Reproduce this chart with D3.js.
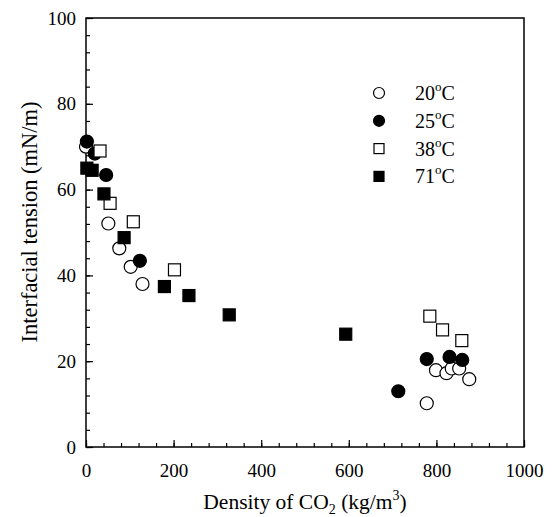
<!DOCTYPE html>
<html>
<head>
<meta charset="utf-8">
<script src="https://cdn.jsdelivr.net/npm/d3@7"></script>
<style>
    body { margin: 0; background: white; }
    text { font-family: "Liberation Serif", "Times New Roman", serif; fill: black; }
</style>
</head>
<body>
<div id="chart"></div>
<script>
// data: density of CO2 (kg/m3) vs interfacial tension (mN/m)
let series20 = [[0, 70], [51, 52.1], [76, 46.3], [102, 42], [129, 38], [778, 10.2], [799, 17.9], [823, 17.2], [835, 18.3], [852, 18.3], [875, 15.8]];
let series25 = [[2, 71.2], [20, 68.4], [46, 63.4], [123, 43.4], [713, 13], [778, 20.5], [830, 21], [859, 20.3]];
let series38 = [[32, 69], [55, 56.8], [108, 52.5], [202, 41.3], [785, 30.5], [814, 27.3], [858, 24.8]];
let series71 = [[2, 65], [14, 64.5], [41, 59], [87, 48.8], [179, 37.4], [235, 35.3], [327, 30.8], [593, 26.3]];

let legendLabels = ["20", "25", "38", "71"];
let xTicks = [0, 200, 400, 600, 800, 1000];
let yTicks = [0, 20, 40, 60, 80, 100];

let groups = [
    {name: "20", data: series20, shape: "circle", fill: "white"},
    {name: "25", data: series25, shape: "circle", fill: "black"},
    {name: "38", data: series38, shape: "square", fill: "white"},
    {name: "71", data: series71, shape: "square", fill: "black"}
];

let margin = {top: 18, right: 28, bottom: 70, left: 86};
let width = 552 - margin.left - margin.right;
let height = 517 - margin.top - margin.bottom;

let svg = d3.select("#chart").append("svg")
    .attr("width", 552)
    .attr("height", 517)
    .append("g")
    .attr("transform", `translate(${margin.left}, ${margin.top})`);

let x = d3.scaleLinear().domain([0, 1000]).range([0, width]);
let y = d3.scaleLinear().domain([0, 100]).range([height, 0]);

// inward ticks, major + minor
let xAxis = d3.axisBottom(x).tickValues(d3.range(0, 1001, 40)).tickSize(-4).tickFormat("");
let yAxis = d3.axisLeft(y).tickValues(d3.range(0, 101, 4)).tickSize(-4).tickFormat("");

svg.append("g").attr("class", "x-minor")
    .attr("transform", `translate(0, ${height})`)
    .call(xAxis);
svg.append("g").attr("class", "y-minor")
    .call(yAxis);

svg.append("g").attr("class", "x-axis")
    .attr("transform", `translate(0, ${height})`)
    .call(d3.axisBottom(x).tickValues(xTicks).tickSize(-7).tickPadding(17).tickFormat(d3.format("d")));
svg.append("g").attr("class", "y-axis")
    .call(d3.axisLeft(y).tickValues(yTicks).tickSize(-7).tickPadding(10).tickFormat(d3.format("d")));

svg.selectAll(".domain").remove();
svg.selectAll(".tick line").attr("stroke", "black").attr("stroke-width", 1.2);
svg.selectAll(".tick text").style("font-size", "19px").style("font-family", "Liberation Serif");

// frame
svg.append("rect")
    .attr("width", width)
    .attr("height", height)
    .attr("fill", "none")
    .attr("stroke", "black")
    .attr("stroke-width", 1.5);

// markers
let r = 6.5, s = 12;
groups.forEach(g => {
    if (g.shape === "circle") {
        svg.selectAll(".pt" + g.name)
            .data(g.data)
            .enter().append("circle")
            .attr("cx", d => x(d[0]))
            .attr("cy", d => y(d[1]))
            .attr("r", r)
            .attr("fill", g.fill)
            .attr("stroke", "black")
            .attr("stroke-width", 1.2);
    } else {
        svg.selectAll(".pt" + g.name)
            .data(g.data)
            .enter().append("rect")
            .attr("x", d => x(d[0]) - s / 2)
            .attr("y", d => y(d[1]) - s / 2)
            .attr("width", s)
            .attr("height", s)
            .attr("fill", g.fill)
            .attr("stroke", "black")
            .attr("stroke-width", 1.2);
    }
});

// legend
let legend = svg.append("g")
    .attr("class", "legend")
    .attr("transform", `translate(${379 - margin.left}, ${93 - margin.top})`);

groups.forEach((g, i) => {
    let row = legend.append("g").attr("transform", `translate(0, ${i * 27.8})`);
    if (g.shape === "circle") {
        row.append("circle").attr("r", 5.5)
            .attr("fill", g.fill).attr("stroke", "black").attr("stroke-width", 1.2);
    } else {
        row.append("rect").attr("x", -5).attr("y", -5).attr("width", 10).attr("height", 10)
            .attr("fill", g.fill).attr("stroke", "black").attr("stroke-width", 1.2);
    }
    let t = row.append("text")
        .attr("x", 36)
        .attr("y", 7)
        .style("font-size", "20px");
    t.append("tspan").text(legendLabels[i]);
    t.append("tspan").attr("dy", -9).style("font-size", "13px").text("o");
    t.append("tspan").attr("dy", 9).text("C");
});

// axis titles
let xt = svg.append("text")
    .attr("x", width / 2)
    .attr("y", height + 62)
    .attr("text-anchor", "middle")
    .style("font-size", "21.5px");
xt.append("tspan").text("Density of CO");
xt.append("tspan").attr("dy", 5).style("font-size", "14px").text("2");
xt.append("tspan").attr("dy", -5).text(" (kg/m");
xt.append("tspan").attr("dy", -9).style("font-size", "14px").text("3");
xt.append("tspan").attr("dy", 9).text(")");

svg.append("text")
    .attr("transform", `translate(${-49}, ${204}) rotate(-90)`)
    .attr("text-anchor", "middle")
    .style("font-size", "22.5px")
    .text("Interfacial tension (mN/m)");
</script>
</body>
</html>
